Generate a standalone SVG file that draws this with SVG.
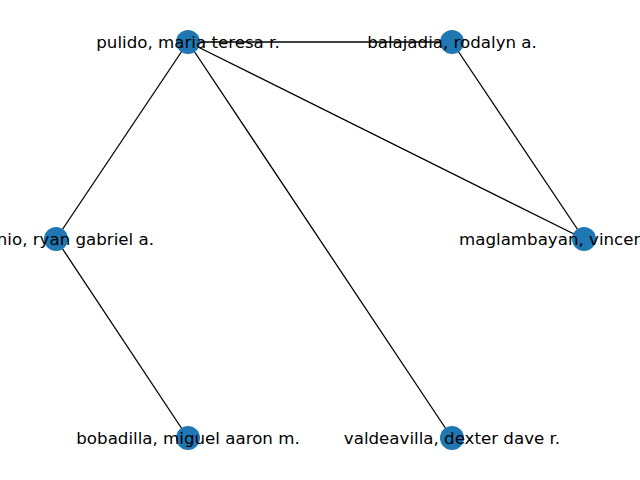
<svg xmlns="http://www.w3.org/2000/svg" width="640" height="480" viewBox="0 0 640 480">
<style>
.e{stroke:#000;stroke-width:1.3;fill:none}
.n{fill:#1f77b4}
.t{font-family:"DejaVu Sans",sans-serif;font-size:16.67px;fill:#000;text-anchor:middle;dominant-baseline:central}
</style>
<rect width="640" height="480" fill="#fff"/>
<g id="edges">
<line class="e" x1="188" y1="42" x2="452" y2="42"/>
<line class="e" x1="188" y1="42" x2="56" y2="239"/>
<line class="e" x1="188" y1="42" x2="452" y2="438"/>
<line class="e" x1="188" y1="42" x2="584" y2="239"/>
<line class="e" x1="452" y1="42" x2="584" y2="239"/>
<line class="e" x1="56" y1="239" x2="188" y2="438"/>
</g>
<g id="node-pulido"><circle class="n" cx="188" cy="42" r="12"/></g>
<g id="node-balajadia"><circle class="n" cx="452" cy="42" r="12"/></g>
<g id="node-ryan"><circle class="n" cx="56" cy="239" r="12"/></g>
<g id="node-maglambayan"><circle class="n" cx="584" cy="239" r="12"/></g>
<g id="node-bobadilla"><circle class="n" cx="188" cy="438" r="12"/></g>
<g id="node-valdeavilla"><circle class="n" cx="452" cy="438" r="12"/></g>
<g id="labels">
<text class="t" x="188" y="42">pulido, maria teresa r.</text>
<text class="t" x="452" y="42">balajadia, rodalyn a.</text>
<text class="t" x="154" y="239" style="text-anchor:end">antonio, ryan gabriel a.</text>
<text class="t" x="459" y="239" style="text-anchor:start">maglambayan, vincent</text>
<text class="t" x="188" y="438">bobadilla, miguel aaron m.</text>
<text class="t" x="452" y="438">valdeavilla, dexter dave r.</text>
</g>
</svg>
